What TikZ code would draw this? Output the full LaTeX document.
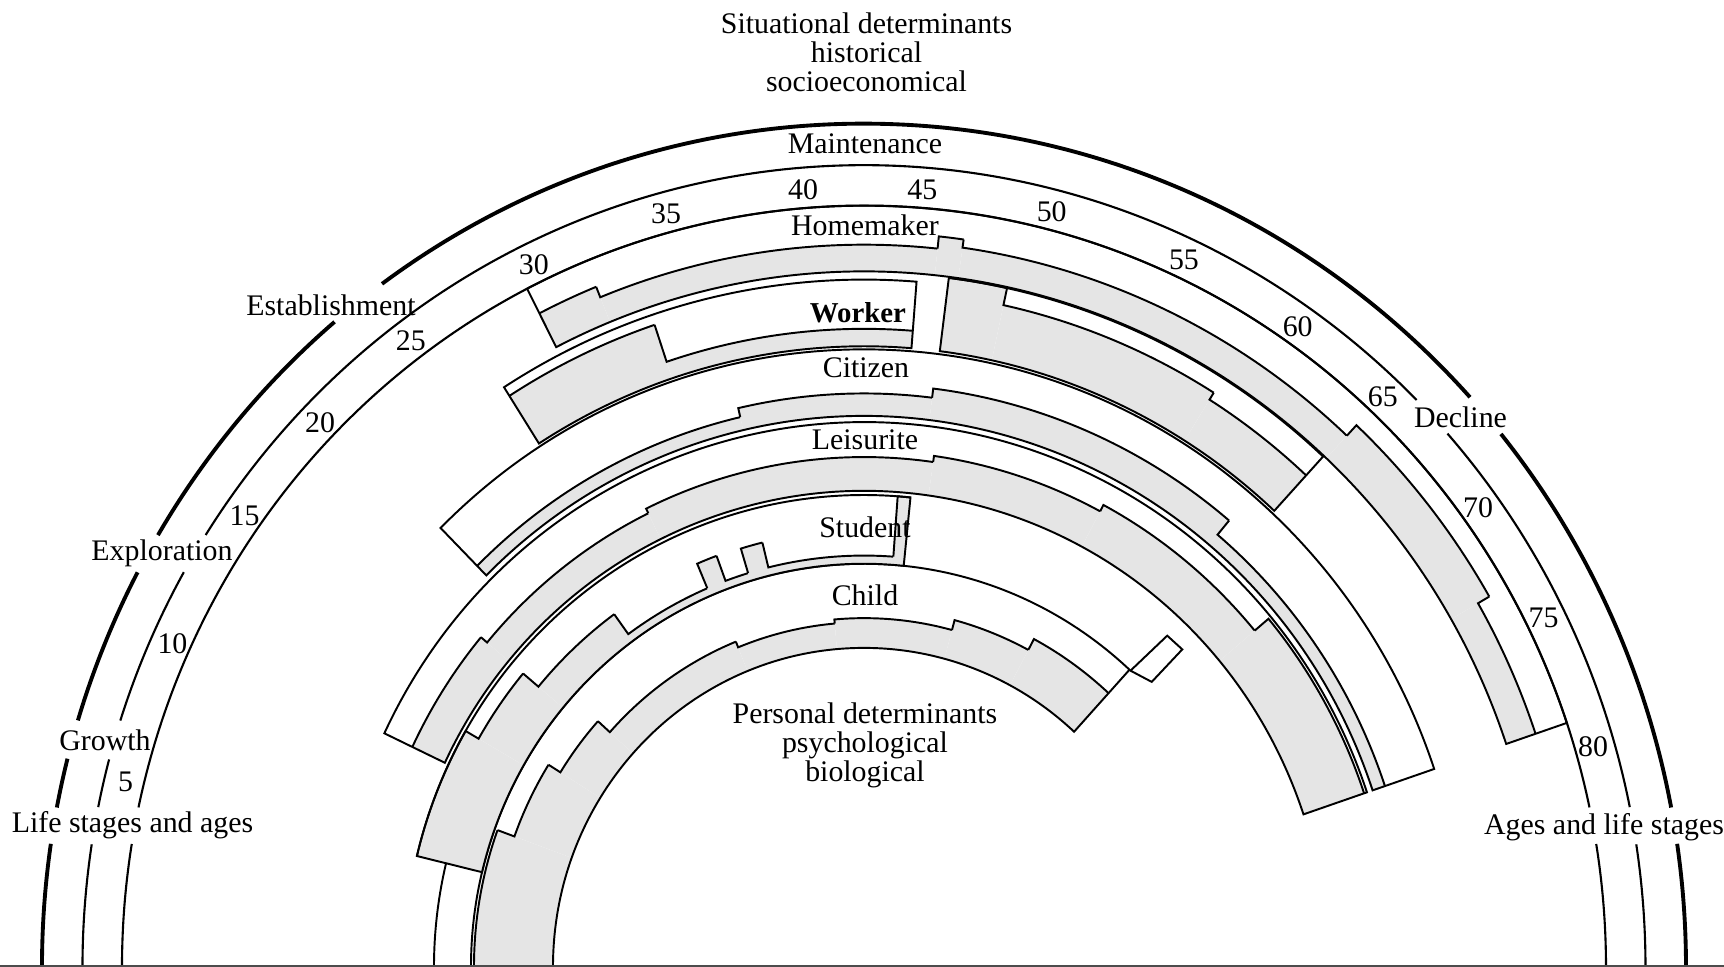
\documentclass[tikz,border=0pt]{standalone}
\usepackage{fontspec}
\setmainfont{Liberation Serif}
\usetikzlibrary{positioning}
\tikzset{
  frame/.style={line width=0.6pt},
  thickframe/.style={line width=1.1pt},
  role/.style={line width=0.55pt},
  shd/.style={fill=black!10},
  lbl/.style={font=\fontsize{8.5}{8.3}\selectfont, inner sep=0pt, align=center},
}

\begin{document}
\begin{tikzpicture}[x=0.1mm,y=0.1mm,yscale=1.026]
\useasboundingbox (-864,0) rectangle (860,942.5);

% Child
\foreach \a/\b/\r [remember=\r as \q (initially 390)] in {180/160/390,160/148/372,148/138/358,138/112/342,112/95/336,95/75/340,75/62/350,62/47.5/362}{
  \fill[shd] (\a:311) arc[start angle=\a,end angle=\b,radius=311] -- (\b:\r) arc[start angle=\b,end angle=\a,radius=\r] -- cycle;
  \draw[role] (\a:\q) -- (\a:\r) arc[start angle=\a,end angle=\b,radius=\r];
}
\draw[role] (180:311) arc[start angle=180,end angle=47.5,radius=311] -- (47.5:393) arc[start angle=47.5,end angle=180,radius=393];

% Student: school years, two short courses, a spell at 45, one late course
\draw[role] (180:430) arc[start angle=180,end angle=166.4,radius=430];
\foreach \a/\b/\r [remember=\r as \q (initially 460)] in {166.4/150/460,150/140/445,140/126/425,126/113/401,113/110.2/427,110.2/106.8/401,106.8/103.8/426,103.8/85.8/401,85.8/84.2/460}{
  \fill[shd] (\a:393) arc[start angle=\a,end angle=\b,radius=393] -- (\b:\r) arc[start angle=\b,end angle=\a,radius=\r] -- cycle;
  \draw[role] (\a:\q) -- (\a:\r) arc[start angle=\a,end angle=\b,radius=\r];
}
\draw[role] (84.2:393) arc[start angle=84.2,end angle=166.4,radius=393] -- (166.4:460) arc[start angle=166.4,end angle=84.2,radius=460] -- cycle;
\draw[role] (47.3:393) -- (44:400) -- (44.2:444) -- (46.8:443) -- cycle;

% Leisurite
\foreach \a/\b/\r [remember=\r as \q (initially 500)] in {154.6/140/500,140/116/492,116/82/497,82/62/503,62/40/510,40/18.7/528}{
  \fill[shd] (\a:464) arc[start angle=\a,end angle=\b,radius=464] -- (\b:\r) arc[start angle=\b,end angle=\a,radius=\r] -- cycle;
  \draw[role] (\a:\q) -- (\a:\r) arc[start angle=\a,end angle=\b,radius=\r];
}
\draw[role] (18.7:464) arc[start angle=18.7,end angle=154.6,radius=464] -- (154.6:531) arc[start angle=154.6,end angle=18.7,radius=531] -- cycle;

% Citizen
\foreach \a/\b/\r [remember=\r as \q (initially 550)] in {134.7/103/550,103/83/559,83/50/568,50/18.7/550}{
  \fill[shd] (\a:537) arc[start angle=\a,end angle=\b,radius=537] -- (\b:\r) arc[start angle=\b,end angle=\a,radius=\r] -- cycle;
  \draw[role] (\a:\q) -- (\a:\r) arc[start angle=\a,end angle=\b,radius=\r];
}
\draw[role] (18.7:537) arc[start angle=18.7,end angle=134.7,radius=537] -- (134.7:602) arc[start angle=134.7,end angle=18.7,radius=602] -- cycle;

% Worker, two spells
\foreach \a/\b/\r [remember=\r as \q (initially 660)] in {122.5/108.5/660,108.5/85.5/622}{
  \fill[shd] (\a:605) arc[start angle=\a,end angle=\b,radius=605] -- (\b:\r) arc[start angle=\b,end angle=\a,radius=\r] -- cycle;
  \draw[role] (\a:\q) -- (\a:\r) arc[start angle=\a,end angle=\b,radius=\r];
}
\draw[role] (85.5:605) arc[start angle=85.5,end angle=122.5,radius=605] -- (122.5:670) arc[start angle=122.5,end angle=85.5,radius=670] -- cycle;
\foreach \a/\b/\r [remember=\r as \q (initially 677)] in {82.8/77.8/677,77.8/58/660,58/47.3/652}{
  \fill[shd] (\a:605) arc[start angle=\a,end angle=\b,radius=605] -- (\b:\r) arc[start angle=\b,end angle=\a,radius=\r] -- cycle;
  \draw[role] (\a:\q) -- (\a:\r) arc[start angle=\a,end angle=\b,radius=\r];
}
\draw[role] (47.3:605) arc[start angle=47.3,end angle=82.8,radius=605] -- (82.8:677) arc[start angle=82.8,end angle=47.3,radius=677] -- cycle;

% Homemaker
\foreach \a/\b/\r [remember=\r as \q (initially 715)] in {117/112/715,112/84/704,84/82/716,82/47/708,47/30/722,30/18.7/709}{
  \fill[shd] (\a:678) arc[start angle=\a,end angle=\b,radius=678] -- (\b:\r) arc[start angle=\b,end angle=\a,radius=\r] -- cycle;
  \draw[role] (\a:\q) -- (\a:\r) arc[start angle=\a,end angle=\b,radius=\r];
}
\draw[role] (18.7:678) arc[start angle=18.7,end angle=117,radius=678] -- (117:742) arc[start angle=117,end angle=18.7,radius=742] -- cycle;

% frame arcs, broken where the stage names sit
\foreach \a/\b in {0/8.4,10.9/39.2,42.5/125.9,130.1/149.2,152.1/163,165.7/169.1,171.6/180}
  \draw[thickframe] (\a:822) arc[start angle=\a,end angle=\b,radius=822];
\foreach \a/\b in {0/8.8,11.5/41.7,45/147.4,150.5/162.1,165/168.5,171.2/180}
  \draw[frame] (\a:781.5) arc[start angle=\a,end angle=\b,radius=781.5];
\foreach \a/\b in {0/9.3,12.1/167.9,170.7/180}
  \draw[frame] (\a:742) arc[start angle=\a,end angle=\b,radius=742];
\draw[line width=0.6pt,black!70] (-864,1) -- (860,1);

% ages
\foreach \ang/\age in {166.3/5,155.5/10,144.6/15,135.7/20,126.6/25,115.75/30,105.1/35,94.6/40,85.6/45,75.7/50,65.1/55,55.2/60,46.95/65,36.1/70,26.6/75,16.4/80}
  \node[lbl] (age\age) at (\ang:760) {\age};

% labels
\node[lbl] (situ) at (2.5,891.8) {Situational determinants\\historical\\socioeconomical};
\node[lbl] (pers) at (1,215.9) {Personal determinants\\psychological\\biological};
\node[lbl] (maint) at (1,802) {Maintenance};
\node[lbl] (estab) at (-533,645.2) {Establishment};
\node[lbl] (explo) at (-702,402.8) {Exploration};
\node[lbl] (growth) at (-759,220.6) {Growth};
\node[lbl] (lsa) at (-731.5,137.7) {Life stages and ages};
\node[lbl] (decl) at (596.5,536) {Decline};
\node[lbl] (alsa) at (740,136.5) {Ages and life stages};
\node[lbl] (home) at (1,723) {Homemaker};
\node[lbl,font=\fontsize{8.2}{8.3}\selectfont\bfseries] (work) at (-6,637.4) {Worker};
\node[lbl] (citi) at (2,583.8) {Citizen};
\node[lbl] (leis) at (1,513.6) {Leisurite};
\node[lbl] (stud) at (1,428.9) {Student};
\node[lbl] (child) at (1,362.6) {Child};
\end{tikzpicture}
\end{document}
